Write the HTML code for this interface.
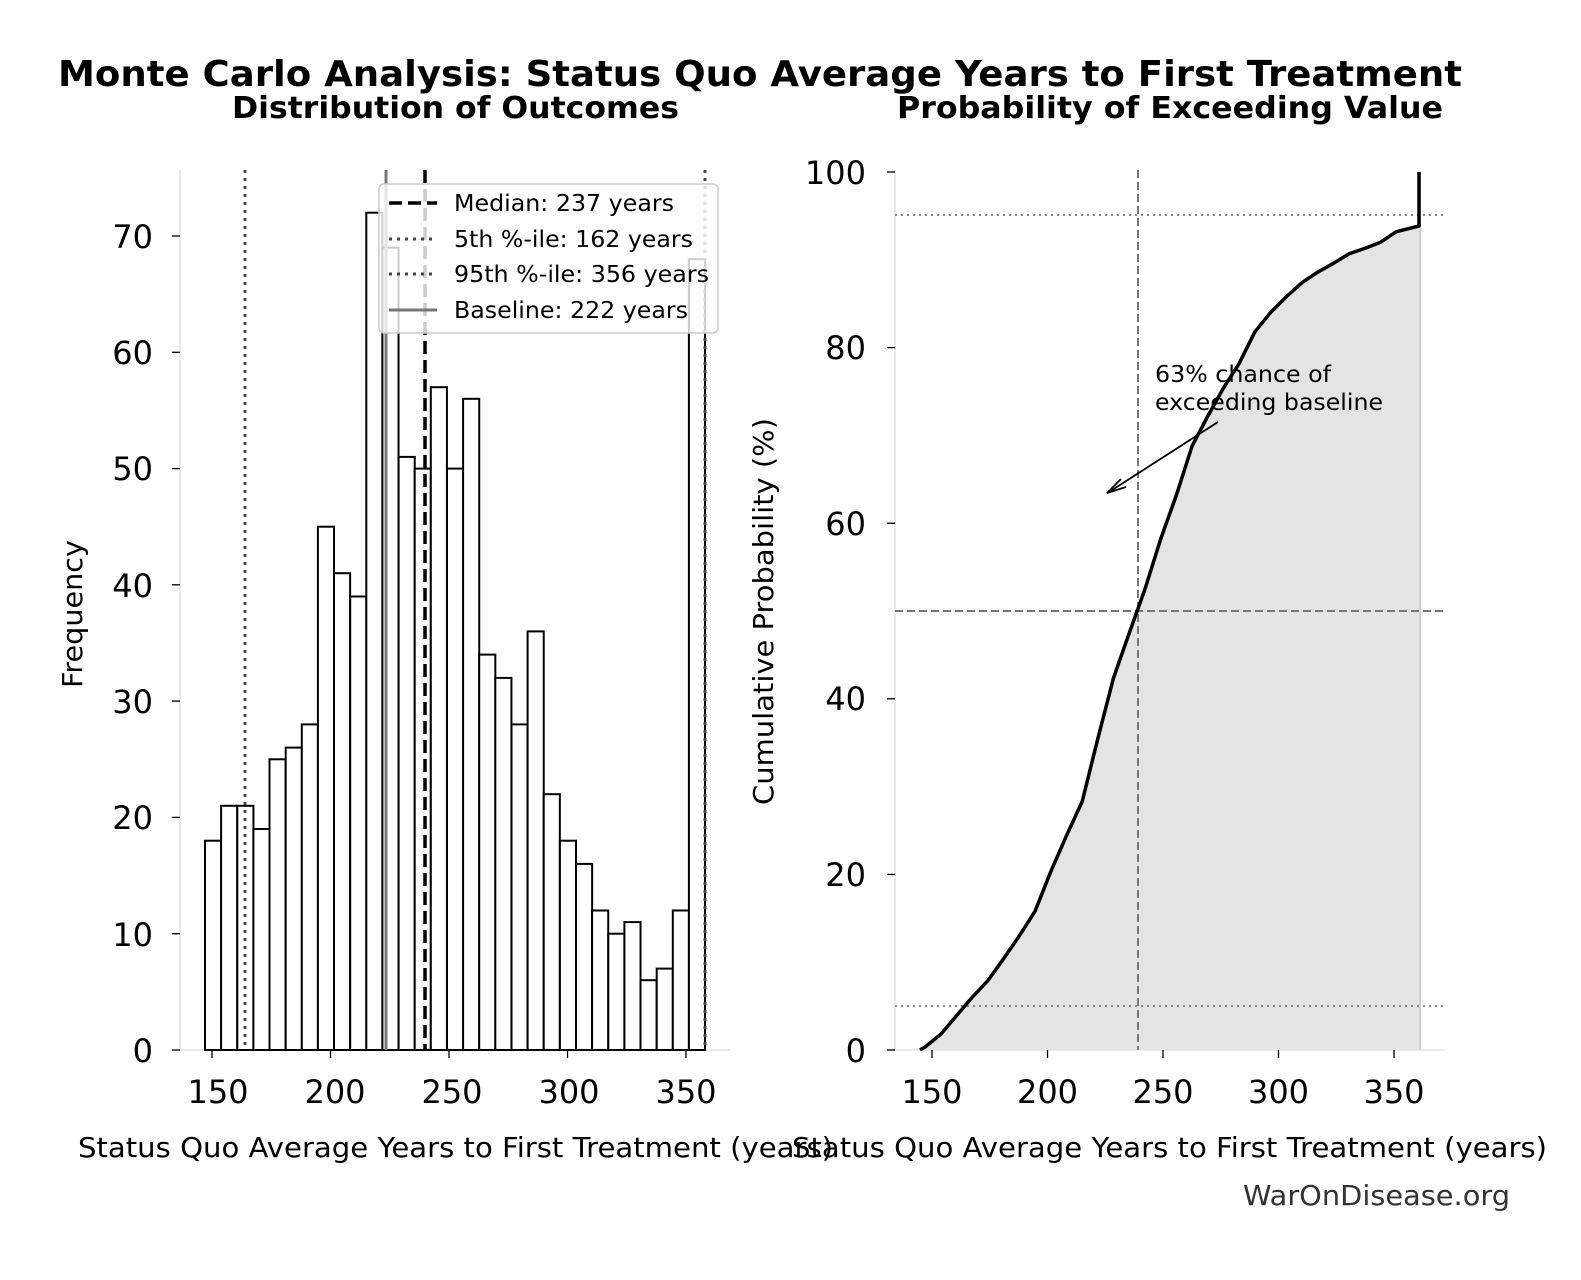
<!DOCTYPE html>
<html><head><meta charset="utf-8"><style>body{margin:0;background:#fff}svg{display:block;font-family:"DejaVu Sans","Liberation Sans",sans-serif}</style></head>
<body>
<svg width="1581" height="1280" viewBox="0 0 1581 1280">
<rect width="1581" height="1280" fill="#fff"/>
<text x="58" y="86" font-size="36" font-weight="bold" textLength="1404" lengthAdjust="spacingAndGlyphs">Monte Carlo Analysis: Status Quo Average Years to First Treatment</text>
<text x="232" y="118" font-size="30" font-weight="bold" textLength="447" lengthAdjust="spacingAndGlyphs">Distribution of Outcomes</text>
<text x="897" y="118" font-size="30" font-weight="bold" textLength="546" lengthAdjust="spacingAndGlyphs">Probability of Exceeding Value</text>

<!-- left axes -->
<g stroke="#ddd" stroke-width="1.3" fill="none"><line x1="180" y1="170" x2="180" y2="1050"/><line x1="180" y1="1050" x2="730" y2="1050"/></g>
<g fill="#fff" stroke="#000" stroke-width="2">
<rect x="205.0" y="840.7" width="16.13" height="209.3"/><rect x="221.1" y="805.8" width="16.13" height="244.2"/><rect x="237.3" y="805.8" width="16.13" height="244.2"/><rect x="253.4" y="829.0" width="16.13" height="221"/><rect x="269.5" y="759.3" width="16.13" height="290.7"/><rect x="285.7" y="747.6" width="16.13" height="302.4"/><rect x="301.8" y="724.4" width="16.13" height="325.6"/><rect x="317.9" y="526.7" width="16.13" height="523.3"/><rect x="334.0" y="573.2" width="16.13" height="476.8"/><rect x="350.2" y="596.5" width="16.13" height="453.5"/><rect x="366.3" y="212.7" width="16.13" height="837.3"/><rect x="382.4" y="247.6" width="16.13" height="802.4"/><rect x="398.6" y="456.9" width="16.13" height="593.1"/><rect x="414.7" y="468.6" width="16.13" height="581.4"/><rect x="430.8" y="387.2" width="16.13" height="662.8"/><rect x="447.0" y="468.6" width="16.13" height="581.4"/><rect x="463.1" y="398.8" width="16.13" height="651.2"/><rect x="479.2" y="654.6" width="16.13" height="395.4"/><rect x="495.3" y="677.9" width="16.13" height="372.1"/><rect x="511.5" y="724.4" width="16.13" height="325.6"/><rect x="527.6" y="631.4" width="16.13" height="418.6"/><rect x="543.7" y="794.2" width="16.13" height="255.8"/><rect x="559.9" y="840.7" width="16.13" height="209.3"/><rect x="576.0" y="863.9" width="16.13" height="186.1"/><rect x="592.1" y="910.5" width="16.13" height="139.5"/><rect x="608.3" y="933.7" width="16.13" height="116.3"/><rect x="624.4" y="922.1" width="16.13" height="127.9"/><rect x="640.5" y="980.2" width="16.13" height="69.8"/><rect x="656.7" y="968.6" width="16.13" height="81.4"/><rect x="672.8" y="910.5" width="16.13" height="139.5"/><rect x="688.9" y="259.2" width="16.13" height="790.8"/>
</g>
<line x1="425" y1="170" x2="425" y2="1050" stroke="#000" stroke-width="3.5" stroke-dasharray="13,6"/>
<line x1="245" y1="170" x2="245" y2="1050" stroke="#444" stroke-width="3" stroke-dasharray="3,5"/>
<line x1="705" y1="170" x2="705" y2="1050" stroke="#444" stroke-width="3" stroke-dasharray="3,5"/>
<line x1="386" y1="170" x2="386" y2="1050" stroke="#777" stroke-width="3"/>
<rect x="379" y="184" width="339" height="149" rx="5" fill="#fff" fill-opacity="0.8" stroke="#ccc" stroke-width="1.5"/>
<g stroke-width="3"><line x1="389" y1="203" x2="437" y2="203" stroke="#000" stroke-width="3.5" stroke-dasharray="13,6"/><line x1="389" y1="239" x2="437" y2="239" stroke="#444" stroke-dasharray="3,5"/><line x1="389" y1="274" x2="437" y2="274" stroke="#444" stroke-dasharray="3,5"/><line x1="389" y1="310" x2="437" y2="310" stroke="#777"/></g>
<g font-size="23"><text x="454" y="211" textLength="220" lengthAdjust="spacingAndGlyphs">Median: 237 years</text><text x="454" y="247" textLength="239" lengthAdjust="spacingAndGlyphs">5th %-ile: 162 years</text><text x="454" y="282" textLength="255" lengthAdjust="spacingAndGlyphs">95th %-ile: 356 years</text><text x="454" y="318" textLength="234" lengthAdjust="spacingAndGlyphs">Baseline: 222 years</text></g>
<g stroke="#000" stroke-width="1.3"><line x1="172" y1="1050" x2="180" y2="1050"/><line x1="172" y1="933.7" x2="180" y2="933.7"/><line x1="172" y1="817.4" x2="180" y2="817.4"/><line x1="172" y1="701.1" x2="180" y2="701.1"/><line x1="172" y1="584.8" x2="180" y2="584.8"/><line x1="172" y1="468.6" x2="180" y2="468.6"/><line x1="172" y1="352.3" x2="180" y2="352.3"/><line x1="172" y1="236" x2="180" y2="236"/>
<line x1="212" y1="1050" x2="212" y2="1058"/><line x1="330.5" y1="1050" x2="330.5" y2="1058"/><line x1="449" y1="1050" x2="449" y2="1058"/><line x1="567.5" y1="1050" x2="567.5" y2="1058"/><line x1="686" y1="1050" x2="686" y2="1058"/></g>
<g font-size="32" text-anchor="end"><text x="153" y="1062">0</text><text x="153" y="946">10</text><text x="153" y="829">20</text><text x="153" y="713">30</text><text x="153" y="597">40</text><text x="153" y="480">50</text><text x="153" y="364">60</text><text x="153" y="248">70</text></g>
<g font-size="32" text-anchor="middle"><text x="218" y="1103">150</text><text x="335" y="1103">200</text><text x="452" y="1103">250</text><text x="569" y="1103">300</text><text x="686" y="1103">350</text></g>
<text x="78" y="1157" font-size="28" textLength="755" lengthAdjust="spacingAndGlyphs">Status Quo Average Years to First Treatment (years)</text>
<text transform="translate(82,688) rotate(-90)" font-size="28" textLength="148" lengthAdjust="spacingAndGlyphs">Frequency</text>

<!-- right axes -->
<g stroke="#ddd" stroke-width="1.3" fill="none"><line x1="895" y1="170" x2="895" y2="1050"/><line x1="895" y1="1050" x2="1445" y2="1050"/></g>
<path d="M920,1050 L925.1,1047 L940.8,1034.2 L956.5,1015.8 L972.2,997.3 L987.9,980.6 L1003.6,958.7 L1019.3,935.9 L1035,911.3 L1050.7,871.8 L1066.4,835.8 L1082.2,801.5 L1097.9,738.3 L1113.6,677.7 L1129.3,632.9 L1145,589 L1160.7,539 L1176.4,495.1 L1192.1,446 L1207.8,416.1 L1223.5,388 L1239.2,363.4 L1254.9,331.8 L1270.6,312.5 L1286.4,296.7 L1302.1,282.6 L1317.8,272.1 L1333.5,263.3 L1349.2,253.7 L1364.9,248.4 L1380.6,242.2 L1396.3,231.7 L1419,226 L1419,172 L1420,172 L1420,1050 Z" fill="#e4e4e4"/>
<line x1="1420" y1="172" x2="1420" y2="1050" stroke="#d0d0d0" stroke-width="2"/>
<line x1="1138" y1="170" x2="1138" y2="1050" stroke="#777" stroke-width="2" stroke-dasharray="8,4"/>
<line x1="895" y1="611" x2="1445" y2="611" stroke="#777" stroke-width="2" stroke-dasharray="8,4"/>
<line x1="895" y1="1006" x2="1445" y2="1006" stroke="#888" stroke-width="2" stroke-dasharray="2,4"/>
<line x1="895" y1="215" x2="1445" y2="215" stroke="#888" stroke-width="2" stroke-dasharray="2,4"/>
<path d="M920,1050 L925.1,1047 L940.8,1034.2 L956.5,1015.8 L972.2,997.3 L987.9,980.6 L1003.6,958.7 L1019.3,935.9 L1035,911.3 L1050.7,871.8 L1066.4,835.8 L1082.2,801.5 L1097.9,738.3 L1113.6,677.7 L1129.3,632.9 L1145,589 L1160.7,539 L1176.4,495.1 L1192.1,446 L1207.8,416.1 L1223.5,388 L1239.2,363.4 L1254.9,331.8 L1270.6,312.5 L1286.4,296.7 L1302.1,282.6 L1317.8,272.1 L1333.5,263.3 L1349.2,253.7 L1364.9,248.4 L1380.6,242.2 L1396.3,231.7 L1419,226 L1419,172" fill="none" stroke="#000" stroke-width="3.5" stroke-linejoin="round"/>
<g stroke="#000" stroke-width="1.3"><line x1="887" y1="1050" x2="895" y2="1050"/><line x1="887" y1="874.4" x2="895" y2="874.4"/><line x1="887" y1="698.8" x2="895" y2="698.8"/><line x1="887" y1="523.2" x2="895" y2="523.2"/><line x1="887" y1="347.6" x2="895" y2="347.6"/><line x1="887" y1="172" x2="895" y2="172"/>
<line x1="932" y1="1050" x2="932" y2="1058"/><line x1="1047.5" y1="1050" x2="1047.5" y2="1058"/><line x1="1163" y1="1050" x2="1163" y2="1058"/><line x1="1278.5" y1="1050" x2="1278.5" y2="1058"/><line x1="1394" y1="1050" x2="1394" y2="1058"/></g>
<g font-size="32" text-anchor="end"><text x="866" y="1062">0</text><text x="866" y="886">20</text><text x="866" y="710">40</text><text x="866" y="535">60</text><text x="866" y="359">80</text><text x="866" y="184">100</text></g>
<g font-size="32" text-anchor="middle"><text x="932" y="1103">150</text><text x="1047.5" y="1103">200</text><text x="1163" y="1103">250</text><text x="1278.5" y="1103">300</text><text x="1394" y="1103">350</text></g>
<text x="792" y="1157" font-size="28" textLength="755" lengthAdjust="spacingAndGlyphs">Status Quo Average Years to First Treatment (years)</text>
<text transform="translate(773,805) rotate(-90)" font-size="28" textLength="387" lengthAdjust="spacingAndGlyphs">Cumulative Probability (%)</text>
<g font-size="23"><text x="1155" y="382" textLength="176" lengthAdjust="spacingAndGlyphs">63% chance of</text><text x="1155" y="410" textLength="228" lengthAdjust="spacingAndGlyphs">exceeding baseline</text></g>
<line x1="1218" y1="422" x2="1109" y2="492" stroke="#000" stroke-width="1.8"/>
<path d="M1121,479 L1107,493 L1126,487" fill="none" stroke="#000" stroke-width="1.8"/>
<text x="1243" y="1205" font-size="28" fill="#333" textLength="267" lengthAdjust="spacingAndGlyphs">WarOnDisease.org</text>
</svg>
</body></html>
